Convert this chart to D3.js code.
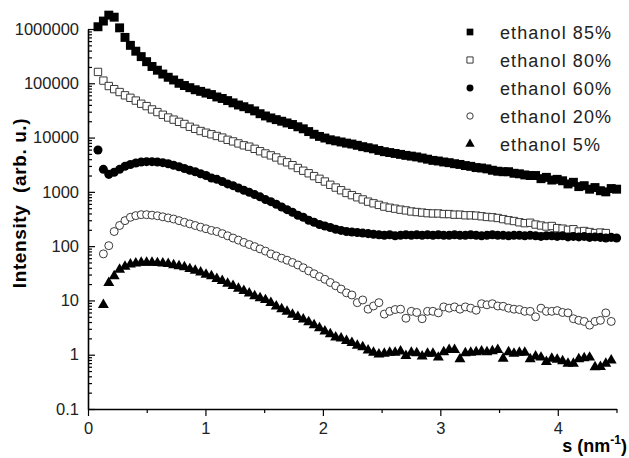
<!DOCTYPE html>
<html>
<head>
<meta charset="utf-8">
<script src="https://cdn.jsdelivr.net/npm/d3@7"></script>
<style>
  body { margin: 0; background: #fff; }
  svg { display: block; font-family: "Liberation Sans", Arial, sans-serif; }
</style>
</head>
<body>
<svg id="chart" width="629" height="458"></svg>
<script>
// scattering vector s (nm^-1), common grid of the measurements
var sValues = [0.085,0.131,0.177,0.223,0.269,0.315,0.361,0.407,0.453,0.499,
  0.545,0.591,0.637,0.683,0.729,0.775,0.821,0.867,0.913,0.959,
  1.005,1.051,1.097,1.143,1.189,1.235,1.281,1.327,1.373,1.419,
  1.465,1.511,1.557,1.603,1.649,1.695,1.741,1.787,1.833,1.879,
  1.925,1.971,2.017,2.063,2.109,2.155,2.201,2.247,2.293,2.339,
  2.385,2.431,2.477,2.523,2.569,2.615,2.661,2.707,2.753,2.799,
  2.845,2.891,2.937,2.983,3.029,3.075,3.121,3.167,3.213,3.259,
  3.305,3.351,3.397,3.443,3.489,3.535,3.581,3.627,3.673,3.719,
  3.765,3.811,3.857,3.903,3.949,3.995,4.041,4.087,4.133,4.179,
  4.225,4.271,4.317,4.363,4.409,4.455,4.501];

var eth85 = [1100000,1400000,1800000,1650000,1050000,700000,500000,390000,310000,250000,
  204000,174000,148000,129000,115000,100000,91000,83000,76000,71000,
  66000,62000,56000,52500,48000,43600,39800,37000,34000,31000,
  27500,25000,23000,21400,20000,18600,17400,15800,14500,12900,
  11500,10500,9800,9100,8700,8300,7900,7600,7200,6800,
  6500,6200,5800,5500,5300,5100,4900,4700,4550,4400,
  4200,4000,3800,3700,3550,3450,3300,3200,3050,2950,
  2800,2750,2650,2500,2400,2350,2350,2200,2150,2050,
  2000,2000,1750,1850,1650,1700,1600,1400,1500,1250,
  1300,1120,1200,1050,1000,1150,1120];

var eth80 = [162000,112000,89000,78000,69000,60000,54000,48000,42000,38000,
  33000,29500,26300,23400,21400,19500,17800,15800,14500,13200,
  12300,11500,10700,10000,9100,8500,7800,7200,6800,6200,
  5600,5100,4700,4300,3800,3500,3100,2750,2450,2200,
  1950,1740,1550,1350,1200,1070,955,870,795,725,
  660,615,575,535,510,490,470,455,435,425,
  415,405,400,400,390,390,380,380,370,370,
  365,355,345,340,330,315,300,290,275,265,
  270,250,240,230,235,215,210,200,205,186,
  190,182,174,178,174];

var eth60 = [5900,2600,2100,2300,2600,2950,3200,3400,3550,3600,
  3600,3550,3450,3300,3100,2900,2700,2500,2350,2150,
  2000,1800,1700,1550,1400,1300,1180,1070,980,890,
  810,720,660,590,525,470,420,370,340,300,
  275,250,235,220,205,195,186,182,178,174,
  170,166,162,158,162,155,158,162,158,162,
  158,162,158,162,158,158,162,158,158,162,
  158,155,158,162,158,158,155,158,158,155,
  158,155,151,155,155,151,155,148,151,148,
  151,145,148,145,141,145,141];

// 20% and 5% start at the second grid point
var eth20 = [null,72,102,186,240,295,340,365,380,380,
  372,363,347,331,316,295,275,257,240,224,
  209,195,186,170,155,141,129,117,107,98,
  89,81,72,66,60,55,50,45,40,35,
  31,27.5,24.5,21.4,18.6,16.2,13.8,12.6,9.1,10.2,
  6.9,7.9,9.1,5.6,6.3,6.8,6.9,4.7,6.3,6.0,
  4.6,6.3,6.3,5.9,7.6,7.2,7.6,6.9,7.6,7.2,
  6.6,8.7,8.3,8.7,7.9,7.8,7.2,6.9,6.8,6.3,
  6.3,5.0,7.2,6.3,6.3,6.5,6.0,5.9,4.6,4.3,
  4.1,3.5,4.1,4.3,5.9,4.1];

var eth5 = [null,8.3,21,28,37,42,46,48,50,50,
  50,49,48,47,45,43,41,38,35.5,33,
  30,28,25,23,20.4,18.6,16.6,15.1,13.5,12,
  11,10.2,9.0,7.8,6.9,6.2,5.5,5.0,4.5,4.0,
  3.5,3.1,2.7,2.4,2.1,2.0,1.8,1.66,1.48,1.38,
  1.2,1.1,1.02,1.05,1.1,1.1,1.15,0.95,1.1,1.07,
  0.93,1.05,1.05,0.89,1.12,1.23,1.23,0.83,1.07,1.1,
  1.12,1.15,1.12,1.17,1.23,0.85,1.12,1.05,1.1,1.1,
  0.83,0.93,0.89,0.74,0.85,0.81,0.76,0.69,0.69,0.83,
  0.87,0.89,0.59,0.6,0.69,0.79];

var seriesNames = ["ethanol 85%", "ethanol 80%", "ethanol 60%", "ethanol 20%", "ethanol 5%"];
var xTicks = [0, 1, 2, 3, 4];
var xMinorTicks = [0.5, 1.5, 2.5, 3.5, 4.5];
var yTicks = [0.1, 1, 10, 100, 1000, 10000, 100000, 1000000];

var svg = d3.select("#chart");
var plotLeft = 88, plotRight = 616.5, plotTop = 29, plotBottom = 409;

var x = d3.scaleLinear().domain([0, 4.5]).range([plotLeft, plotRight]);
var y = d3.scaleLog().domain([0.1, 1000000]).range([plotBottom, plotTop]);

// minor y ticks 2..9 per decade
var yMinor = [];
yTicks.slice(0, -1).forEach(function(d){
  for (var k = 2; k <= 9; k++) yMinor.push(d * k);
});

var yFmt = function(d){ return d < 1 ? "0.1" : d3.format("d")(d); };

svg.append("g")
  .attr("transform", "translate(" + plotLeft + ",0)")
  .call(d3.axisLeft(y).tickValues(yMinor).tickSizeInner(-4).tickSizeOuter(0).tickFormat(""))
  .call(function(g){ g.select(".domain").remove(); })
  .selectAll("line").attr("stroke-width", 1.2);

var yAxis = svg.append("g")
  .attr("transform", "translate(" + plotLeft + ",0)")
  .call(d3.axisLeft(y).tickValues(yTicks).tickSizeInner(-7).tickSizeOuter(0).tickPadding(9).tickFormat(yFmt));

var xAxis = svg.append("g")
  .attr("transform", "translate(0," + plotBottom + ")")
  .call(d3.axisBottom(x).tickValues(xTicks).tickSizeInner(7).tickSizeOuter(0).tickPadding(6).tickFormat(d3.format("d")));

svg.append("g")
  .attr("transform", "translate(0," + plotBottom + ")")
  .call(d3.axisBottom(x).tickValues(xMinorTicks).tickSizeInner(4).tickSizeOuter(0).tickFormat(""))
  .call(function(g){ g.select(".domain").remove(); })
  .selectAll("line").attr("stroke-width", 1.2);

[yAxis, xAxis].forEach(function(g){
  g.select(".domain").attr("stroke-width", 1.6);
  g.selectAll(".tick line").attr("stroke-width", 1.2);
  g.selectAll("text").attr("font-size", 16.5).attr("fill", "#222")
    .attr("font-family", "Liberation Sans, Arial, sans-serif");
});

// series styles
var styles = [
  { data: eth85, type: d3.symbolSquare, size: 80, fill: "#000", stroke: "none", lsize: 45 },
  { data: eth80, type: d3.symbolSquare, size: 54, fill: "#fff", stroke: "#3a3a3a", lsize: 38 },
  { data: eth60, type: d3.symbolCircle, size: 64, fill: "#000", stroke: "none", lsize: 38 },
  { data: eth20, type: d3.symbolCircle, size: 50, fill: "#fff", stroke: "#3a3a3a", lsize: 32 },
  { data: eth5, type: d3.symbolTriangle, size: 52, fill: "#000", stroke: "none", lsize: 38 }
];

styles.forEach(function(st){
  var pts = sValues.map(function(s, i){ return { s: s, v: st.data[i] }; })
    .filter(function(p){ return p.v != null; });
  svg.append("g").selectAll("path").data(pts).enter().append("path")
    .attr("transform", function(d){ return "translate(" + x(d.s) + "," + y(d.v) + ")"; })
    .attr("d", d3.symbol().type(st.type).size(st.size))
    .attr("fill", st.fill)
    .attr("stroke", st.stroke)
    .attr("stroke-width", 1);
});

// legend
var legend = svg.append("g").attr("transform", "translate(470,32)");
seriesNames.forEach(function(name, i){
  var st = styles[i];
  var row = legend.append("g").attr("transform", "translate(0," + (i * 28) + ")");
  row.append("path")
    .attr("d", d3.symbol().type(st.type).size(st.lsize))
    .attr("fill", st.fill).attr("stroke", st.stroke).attr("stroke-width", 1);
  row.append("text")
    .attr("x", 30).attr("y", 6.5)
    .attr("font-size", 18).attr("letter-spacing", 1.1).attr("fill", "#222")
    .text(name);
});

// axis titles
svg.append("text")
  .attr("transform", "translate(26,203) rotate(-90)")
  .attr("text-anchor", "middle")
  .attr("font-size", 19).attr("font-weight", "bold").attr("letter-spacing", 0.6)
  .style("white-space", "pre")
  .text("Intensity  (arb. u.)");

var xt = svg.append("text")
  .attr("x", 627).attr("y", 452)
  .attr("text-anchor", "end")
  .attr("font-size", 18).attr("font-weight", "bold");
xt.append("tspan").text("s (nm");
xt.append("tspan").attr("dy", -8).attr("font-size", 12).text("-1");
xt.append("tspan").attr("dy", 8).text(")");
</script>
</body>
</html>
